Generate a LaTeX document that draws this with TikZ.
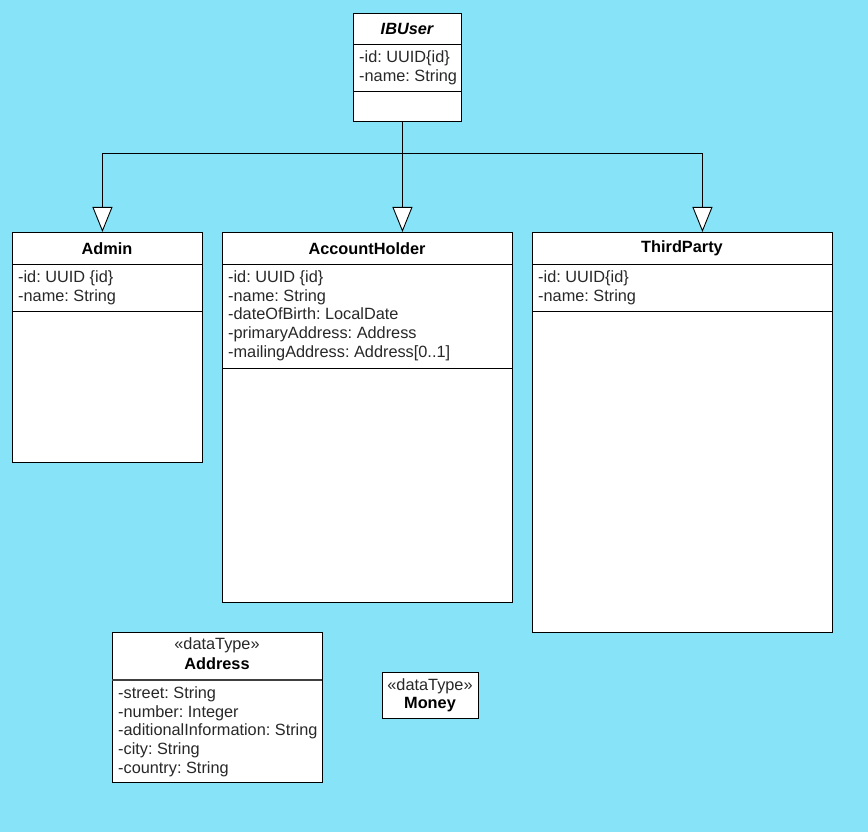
\documentclass[tikz,border=0pt]{standalone}
\usepackage{fontspec}
\setmainfont{Liberation Sans}
\usetikzlibrary{arrows.meta,calc}
\definecolor{bgc}{RGB}{135,228,248}
\definecolor{txt}{RGB}{40,40,40}
\frenchspacing
\begin{document}
\begin{tikzpicture}[x=1pt,y=-1pt,
  box/.style={draw=black,fill=white,line width=0.9pt,anchor=north west,inner sep=0pt},
  ttl/.style={font=\fontsize{16.3}{18}\selectfont\bfseries,text=black,inner sep=0pt},
  att/.style={font=\fontsize{16.3}{18.7}\selectfont,text=txt,inner sep=0pt,anchor=north west,align=left},
  sep/.style={line width=0.9pt},
  gen/.style={line width=0.9pt,-{Triangle[length=25pt,width=20pt,fill=white]}}]
\fill[bgc] (0,0) rectangle (868,832);
\useasboundingbox (0,0) rectangle (868,832);

% IBUser
\node[box,minimum width=108pt,minimum height=108pt] (ibuser) at (353,13) {};
\node[ttl,font=\fontsize{16.3}{18}\selectfont\bfseries\itshape] (ibuserT) at (407,29) {IBUser};
\draw[sep] (353,44) -- (461,44);
\draw[sep] (353,91) -- (461,91);
\node[att] (ibuserA) at (359,50.5) {-id: UUID\{id\}\\-name: String};

% Admin
\node[box,minimum width=190pt,minimum height=230pt] (admin) at (12,232) {};
\node[ttl] (adminT) at (107,248.5) {Admin};
\draw[sep] (12,264) -- (202,264);
\node[att] (adminA) at (18,270.5) {-id: UUID \{id\}\\-name: String};
\draw[sep] (12,311) -- (202,311);

% AccountHolder
\node[box,minimum width=290pt,minimum height=370pt] (acct) at (222,232) {};
\node[ttl] (acctT) at (367,248.5) {AccountHolder};
\draw[sep] (222,264) -- (512,264);
\node[att] (acctA) at (228,270.5) {-id: UUID \{id\}\\-name: String\\-dateOfBirth: LocalDate\\-primaryAddress: Address\\-mailingAddress: Address[0..1]};
\draw[sep] (222,368) -- (512,368);

% ThirdParty
\node[box,minimum width=300pt,minimum height=400pt] (third) at (532,232) {};
\node[ttl] (thirdT) at (682,248.5) {ThirdParty};
\draw[sep] (532,264) -- (832,264);
\node[att] (thirdA) at (538,270.5) {-id: UUID\{id\}\\-name: String};
\draw[sep] (532,311) -- (832,311);

% Address
\node[box,minimum width=210pt,minimum height=150pt] (addr) at (112,632) {};
\node[att,anchor=center,font=\fontsize{16.3}{18}\selectfont] (addrS) at (217,645.5) {«dataType»};
\node[ttl] (addrT) at (217,664) {Address};
\draw[line width=1.2pt,black!75] (112,680) -- (322,680);
\node[att] (addrA) at (118,686.5) {-street: String\\-number: Integer\\-aditionalInformation: String\\-city: String\\-country: String};

% Money
\node[box,minimum width=96pt,minimum height=46pt] (money) at (382,672) {};
\node[att,anchor=center,font=\fontsize{16.3}{18}\selectfont] (moneyS) at (430,686.5) {«dataType»};
\node[ttl] (moneyT) at (430,704.5) {Money};

% generalizations
\coordinate (src) at ([xshift=-5pt]ibuser.south);
\coordinate (j) at (402,153);
\draw[gen] (src) -- ([xshift=35pt]acct.north);
\draw[gen] (j) -| ([xshift=-5pt]admin.north);
\draw[gen] (j) -| ([xshift=20pt]third.north);
\end{tikzpicture}
\end{document}
